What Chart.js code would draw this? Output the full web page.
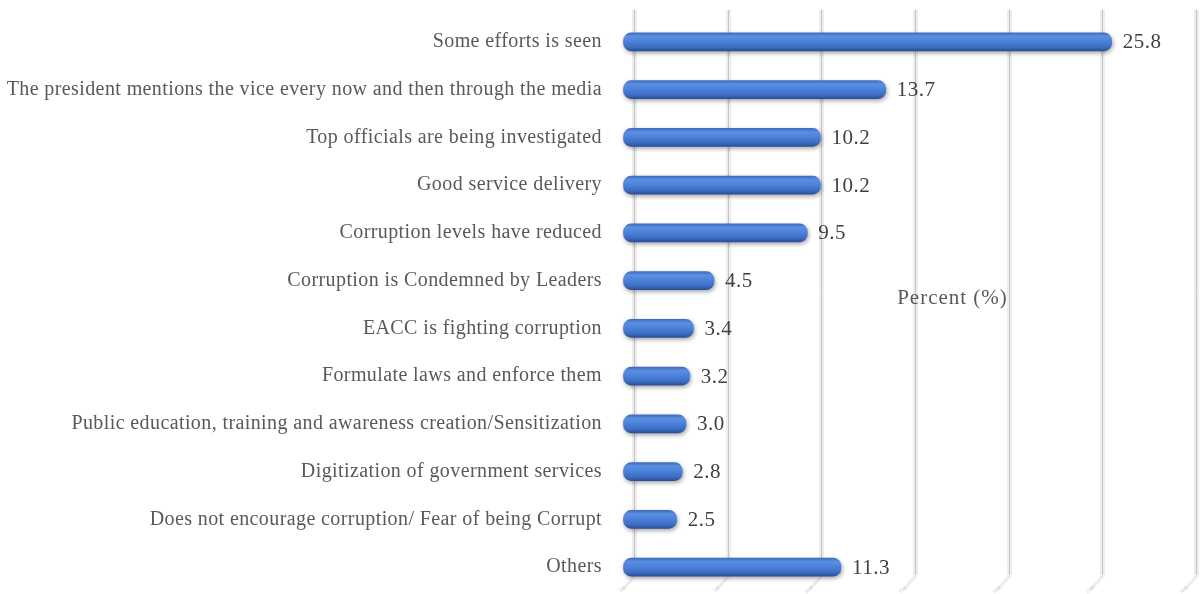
<!DOCTYPE html>
<html>
<head>
<meta charset="utf-8">
<script src="https://cdn.jsdelivr.net/npm/chart.js@4.4.1/dist/chart.umd.min.js"></script>
<style>
  html, body { margin: 0; padding: 0; background: #ffffff; }
  #wrap { width: 1203px; height: 594px; position: relative; }
</style>
</head>
<body>
<div id="wrap"><canvas id="c" width="1203" height="594"></canvas></div>
<script>
// Reasons respondents give for seeing government action against corruption
const categories = [
  'Some efforts is seen',
  'The president mentions the vice every now and then through the media',
  'Top officials are being investigated',
  'Good service delivery',
  'Corruption levels have reduced',
  'Corruption is Condemned by Leaders',
  'EACC is fighting corruption',
  'Formulate laws and enforce them',
  'Public education, training and awareness creation/Sensitization',
  'Digitization of government services',
  'Does not encourage corruption/ Fear of being Corrupt',
  'Others'
];
const percentValues = [25.8, 13.7, 10.2, 10.2, 9.5, 4.5, 3.4, 3.2, 3.0, 2.8, 2.5, 11.3];
const gridTickValues = [0, 5, 10, 15, 20, 25, 30];
const gridTickLabels = ['0.0', '5.0', '10.0', '15.0', '20.0', '25.0', '30.0'];
const axisTitle = 'Percent (%)';

const serif = '"Liberation Serif", "DejaVu Serif", serif';

// Back-wall grid lines with slanted feet and tiny labels, cylinder shading
// on the bars, value labels and the floating axis title
const wallGrid = {
  id: 'wallGrid',
  beforeDraw(chart) {
    chart.ctx.letterSpacing = '0.4px';
  },
  beforeDatasetsDraw(chart) {
    const ctx = chart.ctx;
    const gs = chart.scales.xGrid;
    const top = 10, bottom = 575;
    ctx.save();
    ctx.letterSpacing = '0px';
    gridTickValues.forEach((v, i) => {
      const x = Math.round(gs.getPixelForValue(v)) + 0.5;
      ctx.fillStyle = '#ededed';
      ctx.fillRect(x - 2.5, top, 5, bottom - top);
      ctx.strokeStyle = '#c6c6c6';
      ctx.lineWidth = 1;
      ctx.beginPath();
      ctx.moveTo(x, top);
      ctx.lineTo(x, bottom);
      ctx.lineTo(x - 13, bottom + 15);
      ctx.stroke();
      ctx.strokeStyle = '#ededed';
      ctx.lineWidth = 3;
      ctx.beginPath();
      ctx.moveTo(x + 1, bottom);
      ctx.lineTo(x - 12, bottom + 15);
      ctx.stroke();
      ctx.save();
      ctx.translate(x - 14, bottom + 16);
      ctx.rotate(-Math.PI / 4);
      ctx.fillStyle = '#c4c4c4';
      ctx.font = '5px ' + serif;
      ctx.textAlign = 'right';
      ctx.textBaseline = 'middle';
      ctx.fillText(gridTickLabels[i], 6, 0);
      ctx.restore();
    });
    ctx.restore();
    // cylinder-like vertical shading for each bar
    const meta = chart.getDatasetMeta(0);
    meta.data.forEach((bar) => {
      const h = bar.height / 2;
      const g = ctx.createLinearGradient(0, bar.y - h, 0, bar.y + h);
      g.addColorStop(0, '#3f6cbf');
      g.addColorStop(0.2, '#5b8fe3');
      g.addColorStop(0.5, '#4b80d9');
      g.addColorStop(0.8, '#3c6cc2');
      g.addColorStop(1, '#2a4f96');
      bar.options = Object.assign({}, bar.options, { backgroundColor: g });
    });
    // soft shadow under the bars
    ctx.save();
    ctx.shadowColor = 'rgba(0,0,0,0.35)';
    ctx.shadowBlur = 4;
    ctx.shadowOffsetX = 1;
    ctx.shadowOffsetY = 2;
  },
  afterDatasetsDraw(chart) {
    const ctx = chart.ctx;
    ctx.restore();
    ctx.save();
    ctx.letterSpacing = '0.5px';
    ctx.fillStyle = '#404040';
    ctx.font = '21px ' + serif;
    ctx.textAlign = 'left';
    ctx.textBaseline = 'middle';
    const meta = chart.getDatasetMeta(0);
    meta.data.forEach((bar, i) => {
      ctx.fillText(percentValues[i].toFixed(1), bar.x + 11, bar.y + 1);
    });
    const gs = chart.scales.xGrid;
    const ys = chart.scales.y;
    ctx.letterSpacing = '1px';
    ctx.fillStyle = '#595959';
    ctx.font = '21px ' + serif;
    ctx.textAlign = 'center';
    const tx = gs.getPixelForValue(17);
    const ty = (ys.getPixelForValue(5) + ys.getPixelForValue(6)) / 2 - 6;
    ctx.fillText(axisTitle, tx, ty);
    ctx.restore();
  }
};

new Chart(document.getElementById('c'), {
  type: 'bar',
  data: {
    labels: categories,
    datasets: [{
      data: percentValues,
      base: -0.35,
      xAxisID: 'x',
      backgroundColor: '#4472c4',
      borderWidth: 0,
      borderRadius: 8,
      borderSkipped: false,
      barThickness: 18
    }]
  },
  options: {
    indexAxis: 'y',
    responsive: false,
    animation: false,
    devicePixelRatio: 1,
    layout: { padding: { left: 0, right: 3, top: 18, bottom: 3 } },
    plugins: { legend: { display: false }, tooltip: { enabled: false } },
    scales: {
      x: {
        type: 'linear',
        display: false,
        min: -0.536,
        max: 30.53
      },
      xGrid: {
        type: 'linear',
        axis: 'x',
        display: false,
        min: -0.747,
        max: 30.21
      },
      y: {
        type: 'category',
        position: 'left',
        grid: { display: false, drawTicks: false },
        border: { display: false },
        afterFit(scale) {
          scale.width = 620;
          scale.paddingTop = 0;
          scale.paddingBottom = 0;
        },
        ticks: {
          padding: 18,
          color: '#595959',
          font: { family: serif, size: 20 },
          autoSkip: false
        }
      }
    }
  },
  plugins: [wallGrid]
});
</script>
</body>
</html>
